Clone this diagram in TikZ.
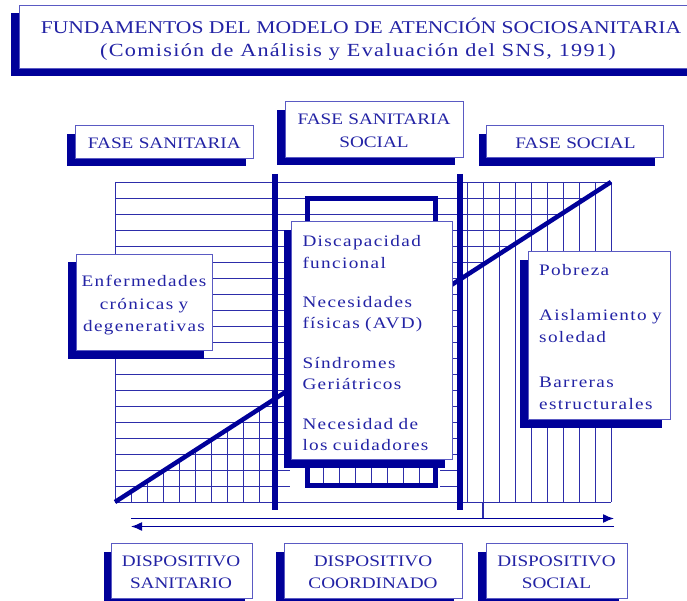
\documentclass[tikz,border=0pt]{standalone}
\usepackage{fontspec}
\setmainfont{Liberation Serif}[FakeStretch=1.2]
\newfontfamily\spacedfont{Liberation Serif}[FakeStretch=1.2,LetterSpace=8.5]
\newfontfamily\titlespaced{Liberation Serif}[FakeStretch=1.2,LetterSpace=7]
\usetikzlibrary{shadows,arrows.meta}
\definecolor{navy}{RGB}{0,0,153}
\definecolor{textblue}{RGB}{35,35,165}
\definecolor{boxline}{RGB}{90,90,195}
\definecolor{gridline}{RGB}{45,45,170}
\begin{document}
\begin{tikzpicture}[x=1pt,y=-1pt,
  shbox/.style={draw=boxline, line width=0.8pt, fill=white, inner sep=0pt,
    drop shadow={shadow xshift=-8pt, shadow yshift=-8.5pt, fill=navy, opacity=1}},
  gridl/.style={draw=gridline, line width=0.9pt},
  capstext/.style={inner sep=0pt, text=textblue, align=center, text width=180pt,
    font=\fontsize{16}{23.5}\selectfont, anchor=base},
  listtext/.style={inner sep=0pt, text=textblue, align=left, text width=150pt,
    font=\spacedfont\fontsize{16}{21.5}\selectfont, anchor=base west},
  arrowl/.style={draw=navy, line width=1.4pt},
  tip/.style={-{Latex[length=11pt,width=9pt]}}
]
\useasboundingbox (0,0) rectangle (687,601);
\clip (0,0) rectangle (687,601);
\fill[white] (0,0) rectangle (687,601);

% ---- grid ----
\foreach \j in {0,...,17}{
  \pgfmathsetmacro{\yy}{182+16*\j}
  \pgfmathsetmacro{\xe}{max(460,115+(502-\yy)*1.55)}
  \draw[gridl] (115,\yy) -- (\xe,\yy);
}
\foreach \yy in {470,486}{
  \draw[gridl] (115,\yy) -- (290,\yy);
  \draw[gridl] (440,\yy) -- (460,\yy);
}
\draw[gridl] (115,502) -- (611,502);
\draw[gridl] (115,182) -- (115,502);
\foreach \k in {1,...,9}{
  \pgfmathsetmacro{\xx}{115+16*\k}
  \pgfmathsetmacro{\yt}{502-16*\k/1.55}
  \draw[gridl] (\xx,502) -- (\xx,\yt);
}
\foreach \k in {22,...,31}{
  \pgfmathsetmacro{\xx}{115+16*\k}
  \draw[gridl] (\xx,182) -- (\xx,502);
}
\foreach \k in {13,...,19}{
  \pgfmathsetmacro{\xx}{115+16*\k}
  \draw[gridl] (\xx,468) -- (\xx,485);
}
\draw[gridl, line width=1.2pt] (483,502) -- (483,518.5);

% ---- diagonal and phase separators ----
\draw[navy, line width=4.5pt] (115,502) -- (611,182);
\draw[navy, line width=5.5pt] (275,174) -- (275,510);
\draw[navy, line width=5.5pt] (460,174) -- (460,510);
\draw[navy, line width=5pt] (307.3,198.3) rectangle (435.7,485);

% ---- title ----
\node[shbox, minimum width=686pt, minimum height=63pt] (title) at (362,36.5) {};
\node[inner sep=0pt, text=textblue, anchor=base, font=\fontsize{18}{23}\selectfont]
  (title1) at (361,33.3) {FUNDAMENTOS DEL MODELO DE ATENCIÓN SOCIOSANITARIA};
\node[inner sep=0pt, text=textblue, anchor=base, font=\titlespaced\fontsize{18.5}{23}\selectfont]
  (title2) at (358,56.7) {(Comisión de Análisis y Evaluación del SNS, 1991)};

% ---- phase boxes ----
\node[shbox, minimum width=178.5pt, minimum height=32.5pt] (fs) at (164.25,141.75) {};
\node[capstext] (fst) at (164.3,149) {FASE SANITARIA};
\node[shbox, minimum width=178pt, minimum height=55.3pt] (fss) at (374,129.35) {};
\node[capstext] (fsst) at (374,124.3) {FASE SANITARIA\\SOCIAL};
\node[shbox, minimum width=176.5pt, minimum height=32.5pt] (fso) at (574.75,141.5) {};
\node[capstext] (fsot) at (575.5,148.5) {FASE SOCIAL};

% ---- content boxes ----
\node[shbox, minimum width=136pt, minimum height=96pt] (enf) at (144,302) {};
\node[listtext, align=center, text width=136pt, anchor=base,
  font=\spacedfont\fontsize{16}{22.5}\selectfont] (enft) at (144,287)
  {Enfermedades\\crónicas y\\degenerativas};

\node[shbox, minimum width=161pt, minimum height=237.6pt] (mid) at (372.2,340.5) {};
\node[listtext] (midt) at (302.3,246.7)
  {Discapacidad\\funcional\\[17.8pt]Necesidades\\físicas (AVD)\\[17.8pt]Síndromes\\Geriátricos\\[17.8pt]Necesidad de\\los cuidadores};

\node[shbox, minimum width=141.7pt, minimum height=167.3pt] (soc) at (599.15,335.35) {};
\node[listtext] (soct) at (539,275.4)
  {Pobreza\\[24pt]Aislamiento y\\soledad\\[24pt]Barreras\\estructurales};

% ---- arrows ----
\coordinate (r1) at (131,518.5);
\coordinate (r2) at (614,518.5);
\coordinate (l1) at (614,526.5);
\coordinate (l2) at (131,526.5);
\draw[arrowl, tip] (r1) -- (r2);
\draw[arrowl, tip] (l1) -- (l2);

% ---- device boxes ----
\node[shbox, minimum width=141pt, minimum height=55pt] (ds) at (182,570.5) {};
\node[capstext, font=\fontsize{16}{22.3}\selectfont] (dst) at (181,566.3) {DISPOSITIVO\\SANITARIO};
\node[shbox, minimum width=178pt, minimum height=55pt] (dc) at (373,570.5) {};
\node[capstext, font=\fontsize{16}{22.3}\selectfont] (dct) at (373,566.3) {DISPOSITIVO\\COORDINADO};
\node[shbox, minimum width=141pt, minimum height=55pt] (dso) at (556.5,570.5) {};
\node[capstext, font=\fontsize{16}{22.3}\selectfont] (dsot) at (556.5,566.3) {DISPOSITIVO\\SOCIAL};
\end{tikzpicture}
\end{document}
